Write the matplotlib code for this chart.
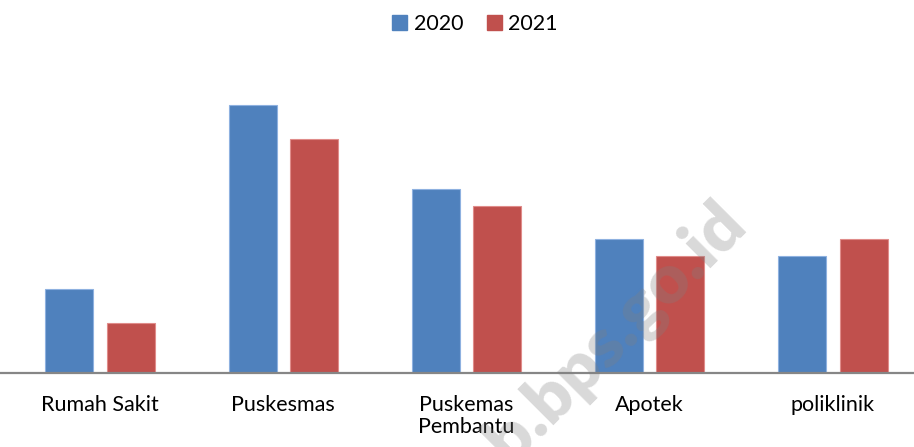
import matplotlib
matplotlib.use("Agg")
import matplotlib.pyplot as plt
import numpy as np
from matplotlib.patches import Patch

categories = ["Rumah Sakit", "Puskesmas", "Puskemas\nPembantu", "Apotek", "poliklinik"]
years = ["2020", "2021"]
values_2020 = [5, 16, 11, 8, 7]
values_2021 = [3, 14, 10, 7, 8]

COLORS = {"2020": "#4F81BD", "2021": "#C0504D"}
EDGES = {"2020": "#8EB1E0", "2021": "#E08C8A"}

plt.rcParams["font.family"] = ["Lato", "DejaVu Sans"]

fig = plt.figure(figsize=(9.14, 4.47), dpi=100)
ax = fig.add_axes([0, 74 / 447, 1, 335 / 447])

x = np.arange(len(categories))
w = 0.262
off = 0.167
ax.bar(x - off, values_2020, w, color=COLORS["2020"], edgecolor=EDGES["2020"], linewidth=0.8, zorder=2)
ax.bar(x + off, values_2021, w, color=COLORS["2021"], edgecolor=EDGES["2021"], linewidth=0.8, zorder=2)

ax.set_xlim(-100 / 183.25, (914 - 100) / 183.25)
ax.set_ylim(0, 20)
ax.set_yticks([])
ax.set_xticks(x)
ax.set_xticklabels(categories, fontsize=15.5, color="#000000", linespacing=1.1)
ax.tick_params(axis="x", length=0, pad=16)
for s in ("top", "right", "left"):
    ax.spines[s].set_visible(False)
ax.spines["bottom"].set_color("#868686")
ax.spines["bottom"].set_linewidth(1.6)
ax.spines["bottom"].set_zorder(3)

handles = [Patch(facecolor=COLORS[y], edgecolor=COLORS[y], label=y) for y in years]
fig.legend(handles=handles, loc="upper center", bbox_to_anchor=(475 / 914, 1.012),
           ncol=2, frameon=False, fontsize=15.5, handlelength=0.7, handleheight=0.7,
           handletextpad=0.3, columnspacing=1.1)

# watermark
fig.text(748 / 914, 1 - 226 / 447, "kab.bps.go.id", fontsize=50, fontweight="heavy",
         color="#808080", alpha=0.3, rotation=45, rotation_mode="anchor",
         ha="right", va="baseline", zorder=10)

fig.savefig("out.png", dpi=100)
